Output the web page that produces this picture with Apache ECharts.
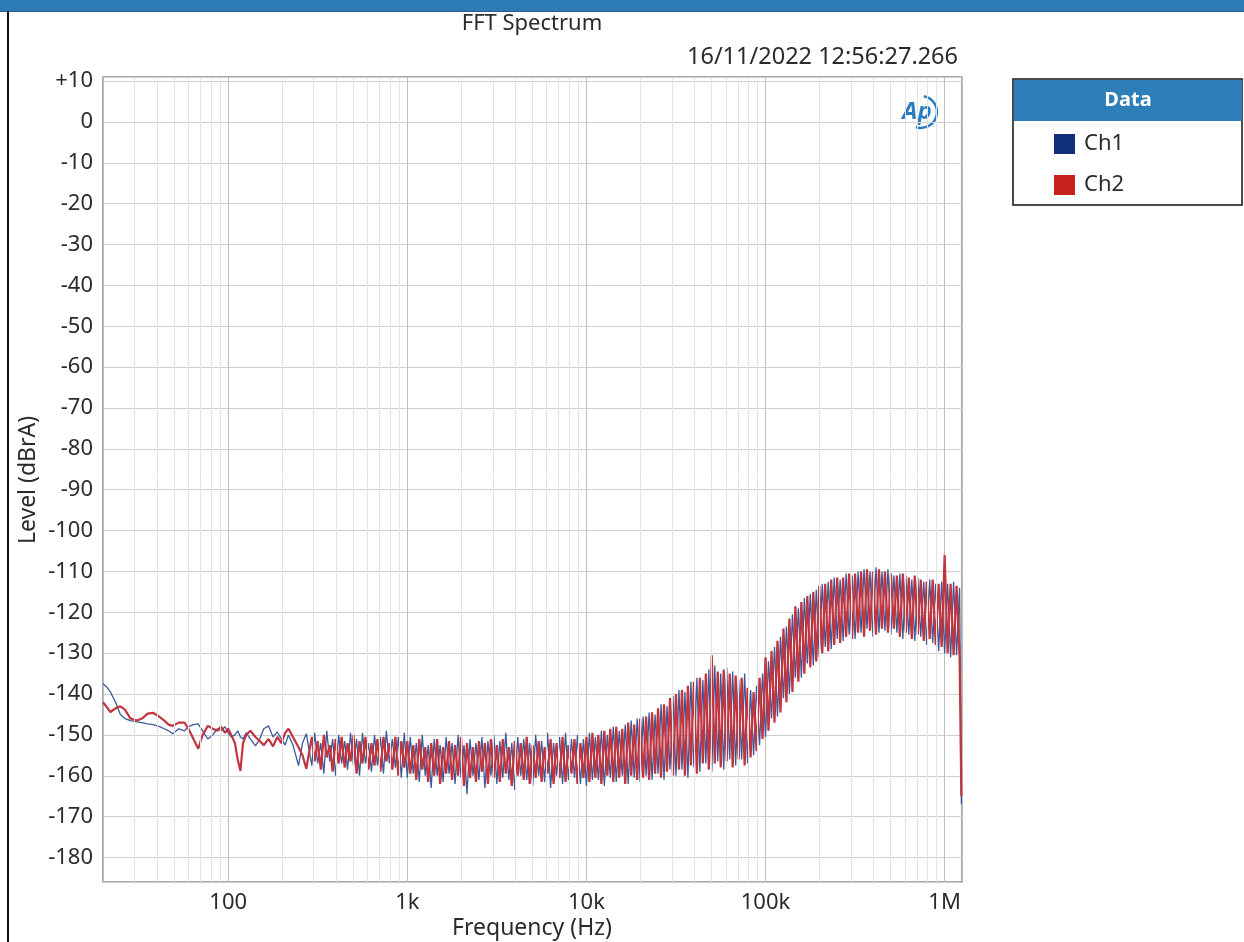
<!DOCTYPE html>
<html>
<head>
<meta charset="utf-8">
<title>FFT Spectrum</title>
<script src="https://cdn.jsdelivr.net/npm/echarts@6/dist/echarts.min.js"></script>
<style>
  html, body { margin: 0; padding: 0; background: #fff; }
  #chart { width: 1244px; height: 942px; }
</style>
</head>
<body>
<div id="chart"></div>
<script>
// frequency points (Hz)
const freq = [
  20, 21, 22, 23.5, 25, 26.5, 28.5, 31, 33, 35.5, 38, 40.5, 44, 46.5, 49, 53, 57, 60, 64, 68,
  72, 77, 82, 87, 91, 96, 100, 104, 109, 113, 117, 121, 126, 133, 142, 150, 158, 168, 178, 188,
  198, 208, 217, 230, 247, 260, 273,
  293, 304, 316, 329, 342, 355, 369, 383, 398, 414, 430, 447, 464, 482, 501, 521, 541, 562, 584, 607,
  631, 656, 681, 708, 736, 764, 794, 825, 858, 891, 926, 962,
  1000, 1039, 1080, 1122, 1166, 1212, 1259, 1308, 1359, 1413, 1468, 1525, 1585, 1647, 1711, 1778, 1848, 1920, 1995, 2073,
  2154, 2239, 2326, 2418, 2512, 2610, 2712, 2818, 2929, 3043, 3162, 3286, 3415, 3548, 3687, 3831, 3981, 4137, 4299, 4467,
  4642, 4824, 5012, 5208, 5412, 5623, 5843, 6072, 6310, 6556, 6813, 7080, 7356, 7644, 7943, 8254, 8577, 8913, 9261, 9624,
  10000, 10390, 10800, 11220, 11660, 12120, 12590, 13080, 13590, 14130, 14680, 15250, 15850, 16470, 17110, 17780, 18480, 19200, 19950, 20730,
  21540, 22390, 23260, 24180, 25120, 26100, 27120, 28180, 29290, 30430, 31620, 32860, 34150, 35480, 36870, 38310, 39810, 41370, 42990, 44670,
  46420, 48240, 50120, 52080, 54120, 56230, 58430, 60720, 63100, 65560, 68130, 70800, 73560, 76440, 79430, 82540, 85770, 89130, 92610, 96240,
  100000, 103900, 108000, 112200, 116600, 121200, 125900, 130800, 135900, 141300, 146800, 152500, 158500, 164700, 171100, 177800, 184800, 192000, 199500, 207300,
  215400, 223900, 232600, 241800, 251200, 261000, 271200, 281800, 292900, 304300, 316200, 328600, 341500, 354800, 368700, 383100, 398100, 413700, 429900, 446700,
  464200, 482400, 501200, 520800, 541200, 562300, 584300, 607200, 631000, 655600, 681300, 708000, 735600, 764400, 794300, 825400, 857700, 891300, 926100, 962400,
  1000000, 1039000, 1080000, 1122000, 1166000, 1212000, 1240000
];

// Ch1 level (dBrA)
const ch1 = [
  -137.5, -138.3, -139.5, -142, -145, -146, -146.5, -146.8, -147, -147.3, -147.5, -147.8, -148.5, -149, -149.7, -148.5, -149, -148, -147.5, -147.3,
  -149, -151, -150, -148.5, -149, -148, -149.5, -150.5, -150, -149, -150.5, -151, -149.5, -151, -152.7, -151, -148.5, -147.8, -150.5, -149.3,
  -151, -152.5, -150, -152.5, -157.5, -152, -149.7,
  -157.5, -149.5, -157, -152, -159.5, -149, -156.5, -151, -160, -150, -157, -151.5, -158.5, -149.5, -157.5, -151, -160, -149.5, -157, -152,
  -159, -150, -157.5, -150.5, -159.5, -149, -157, -151, -158, -150.5, -160.5, -149.5,
  -160.5, -150.5, -159.5, -152, -161.5, -150, -160, -152.5, -163, -151, -160, -152.5, -161.5, -150.5, -159.5, -152, -162, -150, -160.5, -152.5,
  -164.5, -151, -160, -152, -161, -150.5, -163, -151.5, -160, -150, -162, -151.5, -160.5, -149.5, -161, -152, -163.5, -150.5, -160, -151,
  -161, -152, -162.5, -150, -160, -151.5, -161.5, -149.5, -163, -152, -160, -150.5, -162, -149.5, -161, -151, -160.5, -150, -162, -151,
  -162.5, -149.5, -161, -150.5, -161, -149, -162.5, -150, -160.5, -148, -161.5, -149, -160, -147.5, -162, -146.5, -160.5, -146, -161.5, -145.5,
  -160, -144.5, -161, -145, -159.5, -142.5, -161, -143, -158.5, -140.5, -160, -139, -158.5, -139.5, -160.5, -137, -158, -136, -159, -136.5,
  -157, -134, -159, -133, -156.5, -135, -158.5, -133.5, -156, -134.5, -157.5, -136.5, -156, -135, -157, -139, -155, -138, -152.5, -135,
  -150.5, -132, -146, -128.5, -145.5, -126, -141, -123.5, -140, -120.5, -136, -119, -136, -116.5, -132.5, -115.5, -133, -114.5, -131, -113,
  -128.5, -112.5, -129, -111.5, -126.5, -112, -127, -110.5, -125.5, -111, -126.5, -110, -125, -109.5, -124, -110, -126, -109, -125, -110,
  -124.5, -109.5, -125.5, -111, -125, -110.5, -126.5, -111, -125.5, -112, -127, -111.5, -126, -112.5, -128, -112, -127.5, -113, -129.5, -112.5,
  -130, -113, -131, -112.5, -130.5, -114, -167
];

// Ch2 level (dBrA)
const ch2 = [
  -142, -143.2, -144.4, -143.5, -143, -143.8, -146, -146.5, -146, -144.8, -144.6, -145.3, -146.5, -147.5, -147.8, -147, -147, -148.5, -151, -153.4,
  -150, -147.8, -148.5, -149, -148, -149.5, -148.5, -150, -152, -156, -158.8, -152, -150, -149, -150.5, -151.5, -152.5, -151, -152.8, -150.5,
  -152, -149.5, -148.5, -150.5, -153, -155, -158.3,
  -150.5, -156.5, -151.5, -158.5, -150, -155.5, -152.5, -159, -151, -157, -150.5, -158, -152, -156.5, -150, -159.5, -151.5, -157, -150.5, -158.5,
  -152, -157.5, -151, -159, -150.5, -156.5, -152, -158.5, -150.5, -160, -151.5, -158,
  -151.5, -159.5, -152.5, -161, -151, -158.5, -153, -161.5, -152, -160, -151, -162, -153, -159.5, -151.5, -161, -152.5, -160, -150.5, -162.5,
  -152, -160.5, -153, -161.5, -151.5, -159, -152, -162, -151, -160.5, -152.5, -161.5, -151, -159.5, -153, -162.5, -151.5, -160, -152, -161,
  -150.5, -162, -152.5, -160.5, -151.5, -161.5, -153, -159.5, -151, -162, -152, -160.5, -150.5, -161.5, -152.5, -159.5, -151, -162, -152, -160.5,
  -150.5, -161.5, -149.5, -160.5, -150, -162, -149, -160, -148.5, -161.5, -148, -160.5, -148.5, -162, -147, -160, -147.5, -161, -146, -160.5,
  -145.5, -161, -144.5, -159.5, -143.5, -160.5, -142.5, -159, -141, -160, -140, -158.5, -139, -160, -138, -157.5, -137, -159.5, -136, -157,
  -135, -158.5, -130.5, -157, -134.5, -158, -134, -156.5, -135, -158, -135.5, -156, -136, -157.5, -138.5, -155.5, -139.5, -154, -136, -151,
  -131, -149, -129.5, -147, -127, -144.5, -124, -142, -121.5, -139.5, -118.5, -137, -117.5, -135, -116, -133.5, -115, -132, -113.5, -130,
  -113, -129.5, -112, -128, -111.5, -127.5, -111.5, -126, -110.5, -126.5, -110.5, -125, -110, -126, -109.5, -124.5, -110, -125.5, -109.5, -124,
  -110, -125, -110.5, -124, -111, -126, -110.5, -125, -111.5, -126.5, -111, -125.5, -112, -127, -112.5, -126.5, -112, -128, -113, -128.5,
  -106, -130, -113, -130.5, -113.5, -131, -165
];

const xTicks = [100, 1000, 10000, 100000, 1000000];
const xTickLabels = ['100', '1k', '10k', '100k', '1M'];

const FONT = '"Noto Sans", "Open Sans", sans-serif';
const TEXT = '#2b2b2b';

// minor frequency grid lines (2..9 of each decade)
const minorLines = [];
for (let d = 10; d <= 1000000; d *= 10) {
  for (let m = 2; m <= 9; m++) {
    const f = m * d;
    if (f > 20 && f < 1250000) minorLines.push({ xAxis: f });
  }
}

const chart = echarts.init(document.getElementById('chart'));

const option = {
  animation: false,
  backgroundColor: '#fff',
  grid: {
    left: 103, top: 77, width: 859, height: 805,
    show: true, borderColor: '#8c8c8c', borderWidth: 1.5, backgroundColor: '#fff'
  },
  legend: {
    orient: 'vertical',
    left: 1054, top: 133,
    itemWidth: 21, itemHeight: 20, itemGap: 19,
    icon: 'rect',
    selectedMode: false,
    padding: 0,
    textStyle: { fontSize: 22, color: TEXT, fontFamily: FONT, padding: [0, 0, 0, 4] },
    data: [
      { name: 'Ch1', itemStyle: { color: '#10307c' } },
      { name: 'Ch2', itemStyle: { color: '#c8221e' } }
    ]
  },
  xAxis: {
    type: 'log',
    logBase: 10,
    min: 20,
    max: 1250000,
    axisLine: { show: false },
    axisTick: { show: false },
    axisLabel: {
      margin: 10,
      fontSize: 22,
      color: TEXT,
      fontFamily: FONT,
      showMinLabel: false,
      showMaxLabel: false,
      formatter: function (v) {
        for (let i = 0; i < xTicks.length; i++) {
          if (Math.abs(v - xTicks[i]) / xTicks[i] < 1e-6) return xTickLabels[i];
        }
        return '';
      }
    },
    splitLine: { show: true, lineStyle: { color: '#bdbdbd', width: 1 } }
  },
  yAxis: {
    type: 'value',
    min: -186,
    max: 11,
    splitNumber: 20,
    axisLine: { show: false },
    axisTick: { show: false },
    axisLabel: {
      margin: 10,
      fontSize: 22,
      color: TEXT,
      fontFamily: FONT,
      formatter: function (v) {
        if (Math.abs(v % 10) > 1e-6) return '';
        return v > 0 ? '+' + v : String(v);
      }
    },
    splitLine: { show: true, lineStyle: { color: '#cfcfcf', width: 1 } }
  },
  series: [
    {
      name: 'minor',
      type: 'line',
      data: [],
      z: 1,
      silent: true,
      markLine: {
        silent: true,
        symbol: ['none', 'none'],
        label: { show: false },
        lineStyle: { color: '#e2e2e2', width: 1, type: 'solid' },
        emphasis: { disabled: true },
        data: minorLines
      }
    },
    {
      name: 'Ch1',
      type: 'line',
      z: 2,
      showSymbol: false,
      color: '#3a5a9c',
      lineStyle: { color: '#3a5a9c', width: 1.3 },
      data: freq.map((f, i) => [f, ch1[i]])
    },
    {
      name: 'Ch2',
      type: 'line',
      z: 3,
      showSymbol: false,
      color: '#c2343e',
      lineStyle: { color: '#c2343e', width: 2.2 },
      data: freq.map((f, i) => [f, ch2[i]])
    }
  ],
  graphic: [
    { type: 'rect', shape: { x: 0, y: 0, width: 1244, height: 11 }, style: { fill: '#2c7bb6' } },
    { type: 'rect', shape: { x: 0, y: 11, width: 1244, height: 1 }, style: { fill: '#23618f' } },
    { type: 'rect', shape: { x: 7, y: 11, width: 2, height: 931 }, style: { fill: '#111' } },
    {
      type: 'text', style: {
        x: 532, y: 24, text: 'FFT Spectrum', fill: TEXT, font: '22px ' + FONT,
        align: 'center', verticalAlign: 'middle'
      }
    },
    {
      type: 'text', style: {
        x: 958, y: 57, text: '16/11/2022 12:56:27.266', fill: TEXT, font: '23.5px ' + FONT,
        align: 'right', verticalAlign: 'middle'
      }
    },
    {
      type: 'text', style: {
        x: 532, y: 928, text: 'Frequency (Hz)', fill: TEXT, font: '23px ' + FONT,
        align: 'center', verticalAlign: 'middle'
      }
    },
    {
      type: 'text', x: 28, y: 480, rotation: Math.PI / 2, style: {
        x: 0, y: 0, text: 'Level (dBrA)', fill: TEXT, font: '23px ' + FONT,
        align: 'center', verticalAlign: 'middle'
      }
    },
    // AP logo
    {
      type: 'text', style: {
        x: 917, y: 112, text: 'Ap', fill: '#2a7cc2', font: 'italic bold 24px ' + FONT,
        align: 'center', verticalAlign: 'middle'
      }
    },
    {
      type: 'arc', shape: { cx: 921, cy: 112, r: 16, startAngle: -1.4, endAngle: 1.9 },
      style: { stroke: '#2a7cc2', lineWidth: 2.5, fill: null }
    },
    // legend box
    {
      type: 'rect', z: -1, shape: { x: 1013, y: 79, width: 229, height: 126 },
      style: { fill: '#fff', stroke: '#111', lineWidth: 1.5 }
    },
    { type: 'rect', shape: { x: 1014, y: 80, width: 228, height: 41 }, style: { fill: '#2e7eb8' } },
    {
      type: 'text', style: {
        x: 1128, y: 100, text: 'Data', fill: '#fff', font: 'bold 20px ' + FONT,
        align: 'center', verticalAlign: 'middle'
      }
    }
  ]
};

chart.setOption(option);
</script>
</body>
</html>
